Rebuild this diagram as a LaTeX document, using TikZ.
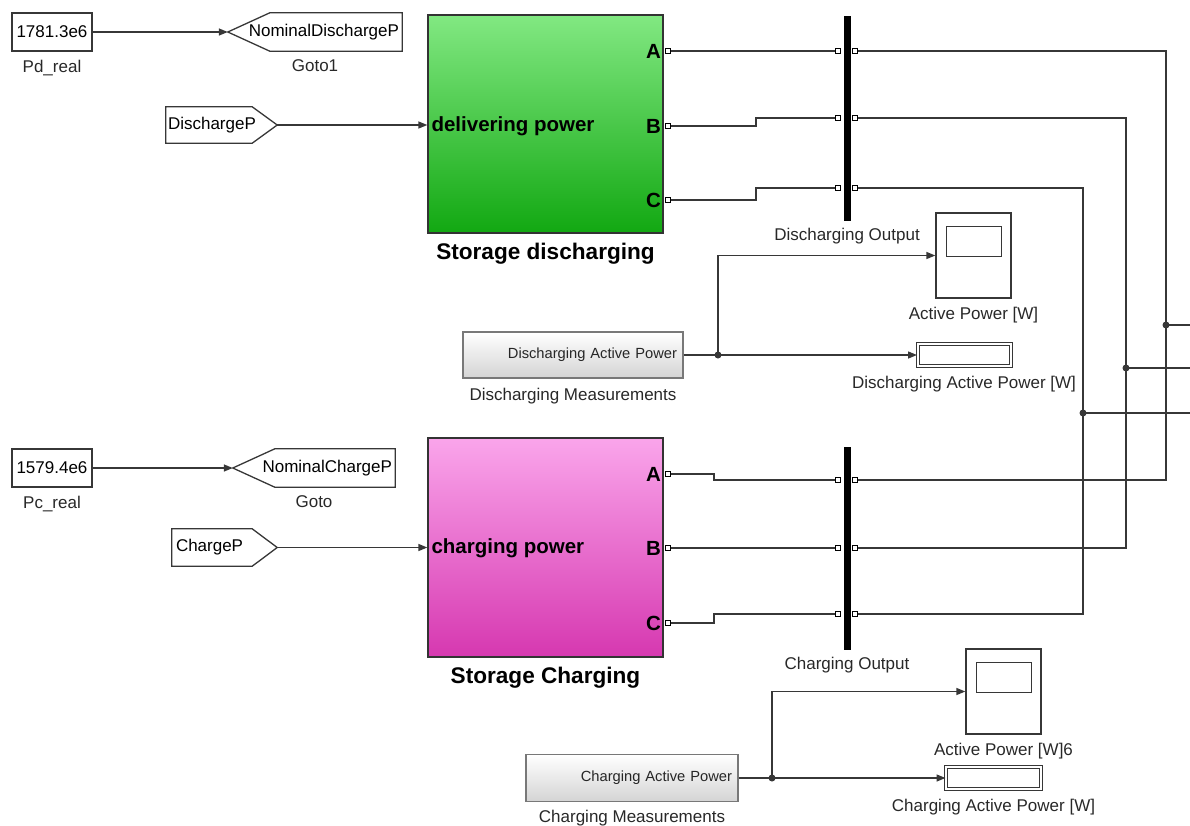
\documentclass[tikz,border=0pt]{standalone}
\usepackage{fontspec}
\setmainfont{Liberation Sans}
\usepackage{xcolor}
\usepackage{tikz}
\usetikzlibrary{positioning, arrows.meta, calc}

\newcommand{\labfont}{\fontsize{17pt}{20pt}\selectfont}
\newcommand{\measfont}{\fontsize{14.7pt}{17pt}\selectfont}
\newcommand{\portfont}{\fontsize{20.5pt}{24pt}\selectfont\bfseries}
\newcommand{\titlefont}{\fontsize{22.6pt}{26pt}\selectfont\bfseries}

\begin{document}
\begin{tikzpicture}[x=1pt, y=-1pt, node distance=8pt, >={Triangle[length=9pt, width=7pt]}, every node/.style={font=\labfont, text=txtgray}]
    % Define colors for different blocks
    \definecolor{linegray}{RGB}{55,55,55}
    \definecolor{txtgray}{RGB}{40,40,40}
    \definecolor{grnTop}{RGB}{130,232,130}
    \definecolor{grnBot}{RGB}{18,168,18}
    \definecolor{pnkTop}{RGB}{250,165,235}
    \definecolor{pnkBot}{RGB}{214,56,176}
    \definecolor{measGray}{RGB}{212,212,212}
    \definecolor{measLine}{RGB}{120,120,120}

    % Define block styles
    \tikzset{
        wire/.style={draw=linegray, line width=1.4pt},
        outline/.style={draw=linegray, line width=1.3pt},
        block/.style={draw=linegray, line width=1.3pt, rectangle, fill=white, inner sep=0pt, text=black},
        tag/.style={rectangle, inner sep=0pt, minimum height=38pt, text=black},
        store/.style={draw=black!80, line width=1.3pt, rectangle, inner sep=0pt, minimum width=235pt, minimum height=218pt},
        port/.style={draw=black, fill=white, line width=1pt, minimum size=5pt, inner sep=0pt},
        portname/.style={anchor=east, inner sep=0pt, font=\portfont, text=black},
        bus/.style={rectangle, fill=black, minimum width=7pt, inner sep=0pt},
        lbl/.style={inner sep=0pt},
        title/.style={inner sep=0pt, font=\titlefont, text=black},
        meas/.style={draw=measLine, line width=1.3pt, rectangle, top color=white, bottom color=measGray, inner sep=0pt, font=\measfont, text=black!85, align=right},
        scope/.style={block, minimum width=75pt, minimum height=85pt},
        disp/.style={draw=linegray, line width=1pt, double=white, double distance=2pt, rectangle, inner sep=0pt, minimum height=22pt},
    }

    \useasboundingbox (0,0) rectangle (1190,825);

    % Nodes: discharging part
    \node[block, minimum width=80pt, minimum height=38pt] (pdReal) at (52,32) {1781.3e6};
    \node[lbl, below=of pdReal] (pdRealLbl) {Pd\_real};
    \node[tag, minimum width=174pt, text width=168pt, align=right] (goto1) at (315,32) {NominalDischargeP};
    \node[lbl, below=of goto1] (goto1Lbl) {Goto1};
    \node[tag, minimum width=111pt, minimum height=36pt, text width=107pt, align=left] (dischP) at (221.5,125) {DischargeP};

    \node[store, top color=grnTop, bottom color=grnBot] (discharging) at (545.5,124) {};
    \node[anchor=west, inner sep=0pt, font=\portfont, text=black] (deliverTxt) at ($(discharging.west)+(4,2)$) {delivering power};
    \node[portname] (dischAName) at (661,51) {A};
    \node[portname] (dischBName) at (661,126) {B};
    \node[portname] (dischCName) at (661,200) {C};
    \node[title, below=9pt of discharging] (dischTitle) {Storage discharging};

    \node[bus, minimum height=205pt] (dischOut) at (847,118.5) {};
    \node[lbl, below=7pt of dischOut] (dischOutLbl) {Discharging Output};

    \node[meas, minimum width=220pt, minimum height=46pt, text width=208pt] (dMeas) at (573,355) {Discharging Active Power};
    \node[lbl, below=9pt of dMeas] (dMeasLbl) {Discharging Measurements};
    \node[scope] (dScope) at (973.5,255.5) {};
    \node[lbl, below=of dScope] (dScopeLbl) {Active Power [W]};
    \node[disp, minimum width=93pt] (dDisp) at (964,355) {};
    \node[lbl, below=9pt of dDisp] (dDispLbl) {Discharging Active Power [W]};

    % Nodes: charging part
    \node[block, minimum width=80pt, minimum height=38pt] (pcReal) at (52,468) {1579.4e6};
    \node[lbl, below=of pcReal] (pcRealLbl) {Pc\_real};
    \node[tag, minimum width=162pt, text width=156pt, align=right] (goto0) at (314,468) {NominalChargeP};
    \node[lbl, below=of goto0] (goto0Lbl) {Goto};
    \node[tag, minimum width=105pt, minimum height=37pt, text width=97pt, align=left] (chargeP) at (224.5,547.5) {ChargeP};

    \node[store, minimum height=219pt, top color=pnkTop, bottom color=pnkBot] (charging) at (545.5,547.5) {};
    \node[anchor=west, inner sep=0pt, font=\portfont, text=black] (chargeTxt) at ($(charging.west)+(4,1)$) {charging power};
    \node[portname] (chargAName) at (661,474) {A};
    \node[portname] (chargBName) at (661,548) {B};
    \node[portname] (chargCName) at (661,623) {C};
    \node[title, below=9pt of charging] (chargTitle) {Storage Charging};

    \node[bus, minimum height=203pt] (chargOut) at (847,548.5) {};
    \node[lbl, below=7pt of chargOut] (chargOutLbl) {Charging Output};

    \node[meas, minimum width=212pt, minimum height=47pt, text width=200pt] (cMeas) at (632,778) {Charging Active Power};
    \node[lbl, below=8pt of cMeas] (cMeasLbl) {Charging Measurements};
    \node[scope] (cScope) at (1003.5,691.5) {};
    \node[lbl, below=of cScope] (cScopeLbl) {Active Power [W]6};
    \node[disp, minimum width=95pt] (cDisp) at (993.5,778) {};
    \node[lbl, below=9pt of cDisp] (cDispLbl) {Charging Active Power [W]};

    % Goto / From outlines and scope screens
    \draw[outline] ($(goto1.north west)+(42,0)$) -- (goto1.north east) -- (goto1.south east) -- ($(goto1.south west)+(42,0)$) -- (goto1.west) -- cycle;
    \draw[outline] ($(goto0.north west)+(42,0)$) -- (goto0.north east) -- (goto0.south east) -- ($(goto0.south west)+(42,0)$) -- (goto0.west) -- cycle;
    \draw[outline] (dischP.north west) -- ($(dischP.north east)+(-25,0)$) -- (dischP.east) -- ($(dischP.south east)+(-25,0)$) -- (dischP.south west) -- cycle;
    \draw[outline] (chargeP.north west) -- ($(chargeP.north east)+(-25,0)$) -- (chargeP.east) -- ($(chargeP.south east)+(-25,0)$) -- (chargeP.south west) -- cycle;
    \draw[outline] ($(dScope.north west)+(11,14)$) rectangle ($(dScope.north east)+(-10,44)$);
    \draw[outline] ($(cScope.north west)+(11,14)$) rectangle ($(cScope.north east)+(-10,44)$);

    % Ports
    \node[port] (pdA) at (668,51) {};
    \node[port] (pdB) at (668,126) {};
    \node[port] (pdC) at (668,200) {};
    \node[port] (boA1) at (838,51) {};
    \node[port] (boA2) at (855,51) {};
    \node[port] (boB1) at (838,118) {};
    \node[port] (boB2) at (855,118) {};
    \node[port] (boC1) at (838,188) {};
    \node[port] (boC2) at (855,188) {};
    \node[port] (pcA) at (668,474) {};
    \node[port] (pcB) at (668,548) {};
    \node[port] (pcC) at (668,623) {};
    \node[port] (coA1) at (838,480) {};
    \node[port] (coA2) at (855,480) {};
    \node[port] (coB1) at (838,548) {};
    \node[port] (coB2) at (855,548) {};
    \node[port] (coC1) at (838,614) {};
    \node[port] (coC2) at (855,614) {};

    % Junctions and free ends
    \coordinate (jA) at (1166,325);
    \coordinate (jB) at (1126,368);
    \coordinate (jC) at (1083,413);
    \coordinate (eA) at (1190,325);
    \coordinate (eB) at (1190,368);
    \coordinate (eC) at (1190,413);
    \coordinate (dJoin) at (718,355);
    \coordinate (cJoin) at (772,778);

    % Arrows connecting the nodes
    \draw[->, wire] (pdReal) -- (goto1);
    \draw[->, wire] (dischP) -- (dischP -| discharging.west);
    \draw[->, wire] (pcReal) -- (goto0);
    \draw[->, wire] (chargeP) -- (chargeP -| charging.west);

    \draw[wire] (pdA) -- (boA1);
    \draw[wire] (pdB.east) -- ++(85,0) |- (boB1);
    \draw[wire] (pdC.east) -- ++(85,0) |- (boC1);
    \draw[wire] (pcA.east) -- ++(43,0) |- (coA1);
    \draw[wire] (pcB) -- (coB1);
    \draw[wire] (pcC.east) -- ++(43,0) |- (coC1);

    \draw[wire] (boA2) -| (jA) |- (coA2);
    \draw[wire] (boB2) -| (jB) |- (coB2);
    \draw[wire] (boC2) -| (jC) |- (coC2);
    \draw[wire] (jA) -- (eA);
    \draw[wire] (jB) -- (eB);
    \draw[wire] (jC) -- (eC);
    \fill[linegray] (jA) circle (3.5pt) (jB) circle (3.5pt) (jC) circle (3.5pt);

    \draw[->, wire] (dMeas) -- (dDisp);
    \draw[->, wire] (dJoin) |- (dScope);
    \fill[linegray] (dJoin) circle (3.5pt);
    \draw[->, wire] (cMeas) -- (cDisp);
    \draw[->, wire] (cJoin) |- (cScope);
    \fill[linegray] (cJoin) circle (3.5pt);
\end{tikzpicture}
\end{document}
